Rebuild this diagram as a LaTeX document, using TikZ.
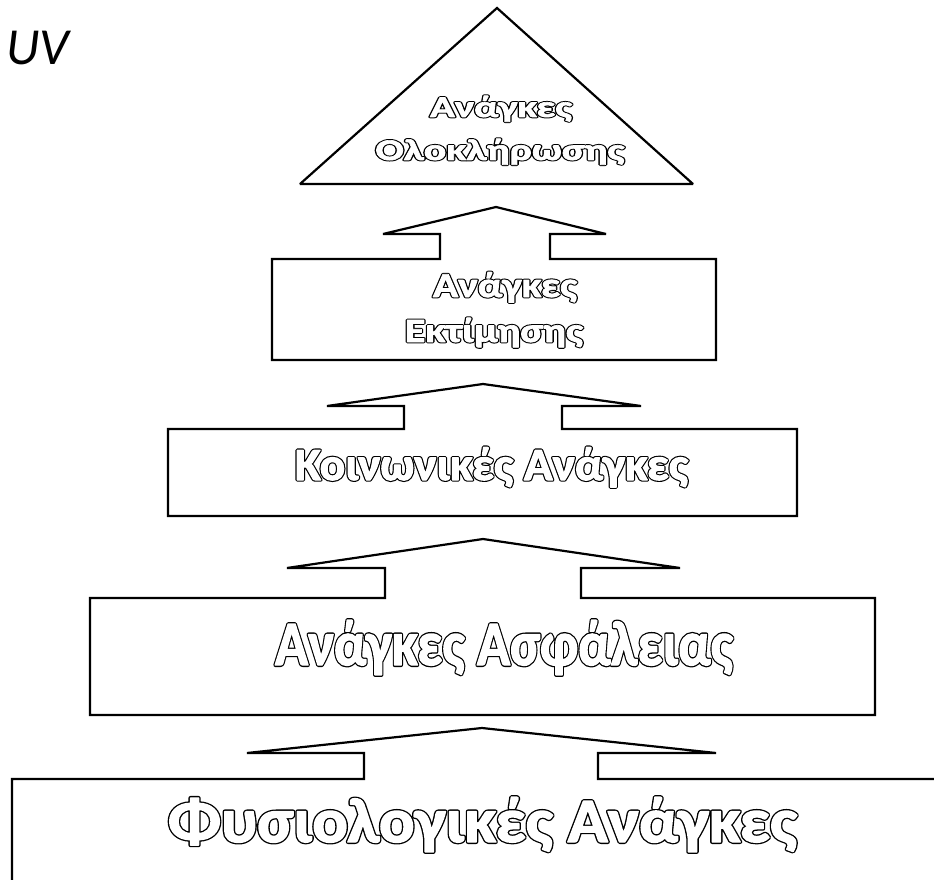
\documentclass[tikz,border=0pt]{standalone}
\usepackage{fontspec}
\usepackage{graphicx}
\newfontfamily\calibrifont{Carlito}
\newfontfamily\calibribold{Carlito}[UprightFont={* Bold}]

% hollow lettering, stretched horizontally to a given width:
% a wide black stroke of the glyph outlines, then the glyphs filled and
% stroked in white with a narrower pen, leaving a black ring just outside
% args: width, font size, outer pen, inner pen, text
\newcommand\hollow[5]{%
  \resizebox{#1}{\height}{\fontsize{#2}{#2}\selectfont\calibribold
    \rlap{\special{pdf:literal direct 1 Tr #3 w 1 j 0 G}#5}%
    \special{pdf:literal direct 2 Tr #4 w 1 j 1 g 1 G}#5%
    \special{pdf:literal direct 0 Tr 0 g 0 G}}}

\tikzset{
  level/.style={draw=black, line width=2.2pt, line join=miter, miter limit=2},
  caption/.style={anchor=base, inner sep=0pt, outer sep=0pt},
}

\begin{document}
\begin{tikzpicture}[x=1pt, y=-1pt]
\useasboundingbox (0,0) rectangle (934,880);
\clip (0,0) rectangle (934,880);

% corner label
\node[anchor=base west, inner sep=0pt,
      font=\fontsize{52}{52}\selectfont\calibrifont\itshape] (uv) at (6,65) {UV};

% top of the pyramid
\draw[level] (497,8) -- (693,184) -- (300,184) -- cycle;
\node[caption] (top1) at (501,117) {\hollow{142pt}{30pt}{2.6}{0.6}{Ανάγκες}};
\node[caption] (top2) at (500,160) {\hollow{249pt}{30pt}{2.6}{0.6}{Ολοκλήρωσης}};

% esteem level with the arrow above it
\draw[level] (272,259) -- (440,259) -- (440,234) -- (383,234) -- (496,207)
  -- (606,234) -- (550,234) -- (550,259) -- (716,259) -- (716,360)
  -- (272,360) -- cycle;
\node[caption] (est1) at (505,297) {\hollow{144pt}{35pt}{2.8}{0.7}{Ανάγκες}};
\node[caption] (est2) at (494,342) {\hollow{178pt}{34pt}{2.8}{0.7}{Εκτίμησης}};

% social level
\draw[level] (168,429) -- (404,429) -- (404,406) -- (327,406) -- (483,384)
  -- (641,406) -- (562,406) -- (562,429) -- (797,429) -- (797,516)
  -- (168,516) -- cycle;
\node[caption] (soc) at (491.5,480) {\hollow{393pt}{46pt}{3.4}{1.1}{Κοινωνικές Ανάγκες}};

% safety level
\draw[level] (90,598) -- (385,598) -- (385,568) -- (287,568) -- (483,539)
  -- (680,568) -- (581,568) -- (581,598) -- (875,598) -- (875,715)
  -- (90,715) -- cycle;
\node[caption] (saf) at (504,665) {\hollow{458pt}{63pt}{4.0}{1.4}{Ανάγκες Ασφάλειας}};

% physiological level, running past the right and bottom edges
\draw[level] (12,900) -- (12,779) -- (364,779) -- (364,753) -- (247,753)
  -- (482,728) -- (716,753) -- (598,753) -- (598,779) -- (950,779);
\node[caption] (phy) at (482.5,842) {\hollow{629pt}{63pt}{4.0}{1.4}{Φυσιολογικές Ανάγκες}};
\end{tikzpicture}
\end{document}
